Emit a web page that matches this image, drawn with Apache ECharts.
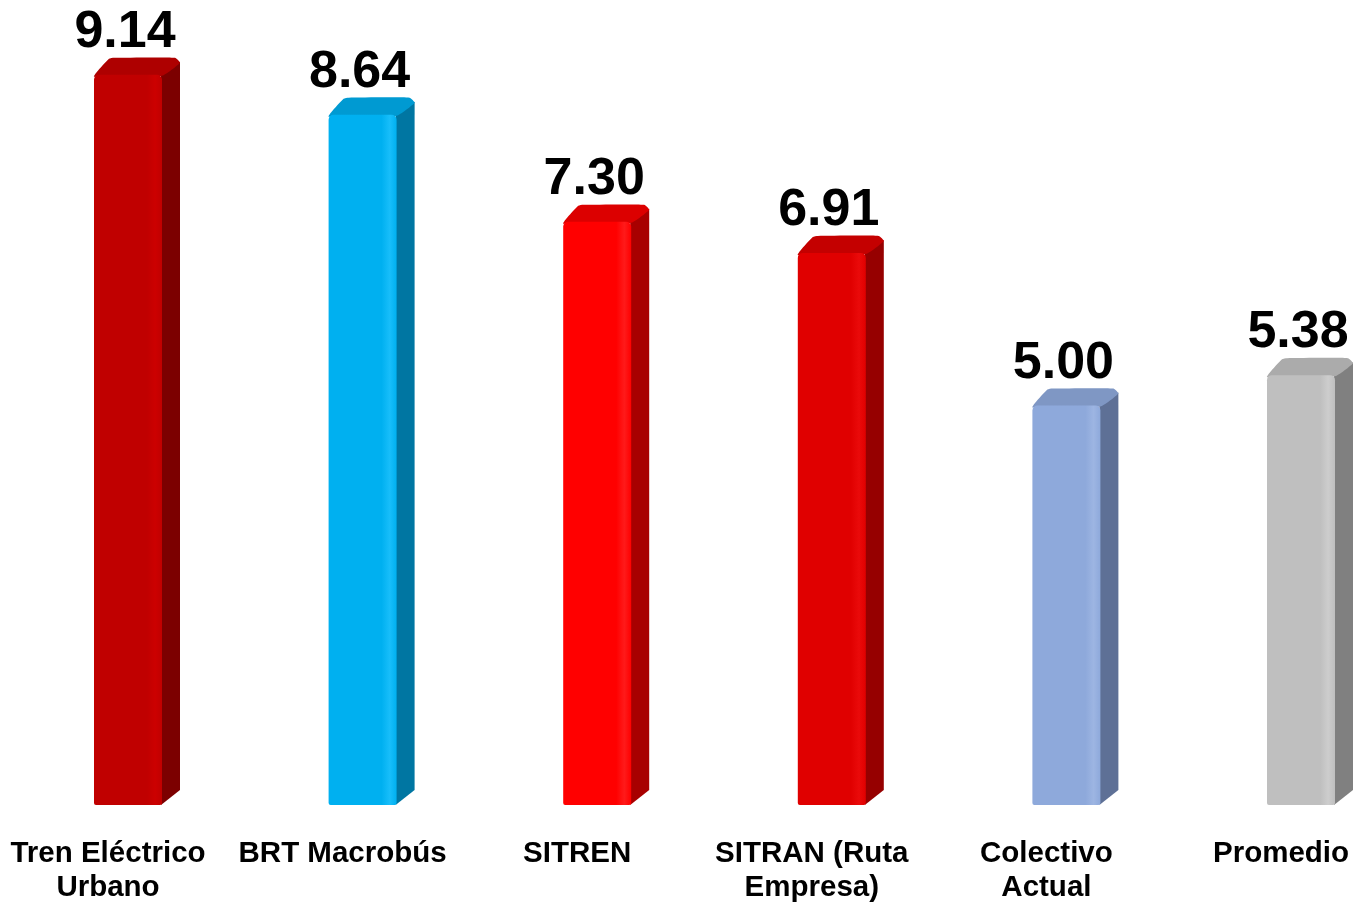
<!DOCTYPE html>
<html>
<head>
<meta charset="utf-8">
<script src="https://cdn.jsdelivr.net/npm/echarts@6/dist/echarts.min.js"></script>
<style>html,body{margin:0;padding:0;background:#fff;}#c{width:1365px;height:907px;}</style>
</head>
<body>
<div id="c"></div>
<script>
const categories = ['Tren Eléctrico\nUrbano', 'BRT Macrobús', 'SITREN', 'SITRAN (Ruta\nEmpresa)', 'Colectivo\nActual', 'Promedio'];
const values = [9.14, 8.64, 7.30, 6.91, 5.00, 5.38];
const valueLabels = ['9.14', '8.64', '7.30', '6.91', '5.00', '5.38'];
const frontColors = ['#C00000', '#00B0F0', '#FF0000', '#E00000', '#8EA9DB', '#BFBFBF'];
const lightColors = ['#CC0000', '#18BEFA', '#FF1A1A', '#EA0A0A', '#9DB5E2', '#CDCDCD'];
const sideColors = ['#7C0000', '#0076A2', '#A80000', '#960000', '#5E7096', '#808080'];
const topColors = ['#AE0000', '#009AD2', '#DC0000', '#C40000', '#7F97C4', '#ABABAB'];

const chart = echarts.init(document.getElementById('c'));
const FONT = "'Liberation Sans', Arial, sans-serif";

chart.setOption({
  animation: false,
  grid: { left: 108, right: 84, top: 6, bottom: 102 },
  xAxis: {
    type: 'category',
    data: categories,
    boundaryGap: false,
    axisLine: { show: false },
    axisTick: { show: false },
    splitLine: { show: false },
    axisLabel: {
      interval: 0,
      margin: 32,
      color: '#000',
      fontFamily: FONT,
      fontWeight: 'bold',
      fontSize: 29.5,
      lineHeight: 34
    }
  },
  yAxis: { type: 'value', min: 0, max: 10, show: false, splitLine: { show: false } },
  series: [{
    type: 'custom',
    clip: false,
    data: values.map((v, i) => [i, v]),
    renderItem: function (params, api) {
      const i = api.value(0);
      const v = api.value(1);
      const base = api.coord([i, 0]);
      const top = api.coord([i, v]);
      const x0 = base[0] - 14, w = 68, dx = 18, dy = 17;
      const yb = base[1], yt = top[1];
      const grad = new echarts.graphic.LinearGradient(0, 0, 1, 0, [
        { offset: 0, color: frontColors[i] },
        { offset: 0.78, color: frontColors[i] },
        { offset: 0.9, color: lightColors[i] },
        { offset: 1, color: frontColors[i] }
      ]);
      return {
        type: 'group',
        children: [
          {
            type: 'polygon',
            shape: { points: [[x0 + w - 1, yt], [x0 + w + dx, yt - dy + 4], [x0 + w + dx, yb - dy + 2], [x0 + w - 1, yb]] },
            style: { fill: sideColors[i] }
          },
          {
            type: 'polygon',
            shape: {
              points: [[x0, yt + 2], [x0 + 3, yt - 3], [x0 + dx - 3, yt - dy + 1], [x0 + dx + 2, yt - dy],
                       [x0 + w + dx - 5, yt - dy], [x0 + w + dx, yt - dy + 5], [x0 + w, yt + 1]],
              smooth: 0.15
            },
            style: { fill: topColors[i] }
          },
          {
            type: 'rect',
            shape: { x: x0, y: yt, width: w, height: yb - yt, r: [5, 5, 2, 2] },
            style: { fill: grad }
          },
          {
            type: 'text',
            style: {
              x: x0 + w / 2 - 3,
              y: yt - 42,
              text: valueLabels[i],
              fill: '#000',
              font: 'bold 52px ' + FONT,
              align: 'center',
              verticalAlign: 'middle'
            }
          }
        ]
      };
    }
  }]
});
</script>
</body>
</html>
